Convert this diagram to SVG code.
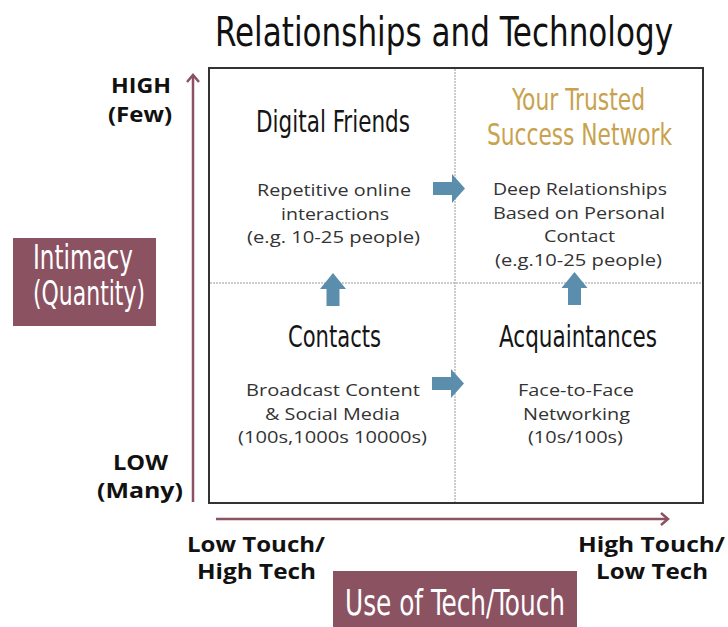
<svg xmlns="http://www.w3.org/2000/svg" width="728" height="627" viewBox="0 0 728 627">
  <style>
    .cond { font-family: "Liberation Sans Narrow", "DejaVu Sans Condensed", "Roboto", sans-serif; font-stretch: condensed; }
    .title { font-size: 40px; fill: #111; }
    .head { font-size: 30px; fill: #151515; }
    .gold { fill: #C8A24E; }
    .body { font-family: "Open Sans", "Noto Sans", sans-serif; font-size: 17px; fill: #333; }
    .lbl { font-family: "Open Sans", "Noto Sans", sans-serif; font-weight: 700; font-size: 20.5px; fill: #111; }
    .tag { fill: #8B5262; }
    .tagtxt { fill: #fff; }
    .axis { stroke: #8B5262; stroke-width: 2.5; fill: none; }
    .blk { fill: #5B8EAD; }
    .div { stroke: #9a9a9a; stroke-width: 1; stroke-dasharray: 2 1; }
  </style>
  <defs>
    <marker id="ah" viewBox="-9 -8 11 16" refX="0" refY="0" markerWidth="11" markerHeight="16" markerUnits="userSpaceOnUse" orient="auto" overflow="visible">
      <path d="M-7,-6 L0,0 L-7,6" fill="none" stroke="#8B5262" stroke-width="2.5" stroke-linejoin="miter"/>
    </marker>
  </defs>
  <rect width="728" height="627" fill="#fff"/>

  <g id="title">
    <text class="cond title" x="215" y="46" textLength="458" lengthAdjust="spacingAndGlyphs">Relationships and Technology</text>
  </g>

  <g id="grid">
    <rect x="209" y="68" width="494" height="435" fill="none" stroke="#333" stroke-width="2"/>
    <line class="div" x1="455" y1="69" x2="455" y2="502"/>
    <line class="div" x1="210" y1="283" x2="702" y2="283"/>
  </g>

  <g id="digital-friends">
    <text class="cond head" x="256" y="132" textLength="154" lengthAdjust="spacingAndGlyphs">Digital Friends</text>
    <text class="body" x="257" y="196" textLength="154" lengthAdjust="spacingAndGlyphs">Repetitive online</text>
    <text class="body" x="281" y="219.5" textLength="108" lengthAdjust="spacingAndGlyphs">interactions</text>
    <text class="body" x="247" y="243" textLength="173" lengthAdjust="spacingAndGlyphs">(e.g. 10-25 people)</text>
  </g>

  <g id="trusted-network">
    <text class="cond head gold" x="512" y="110" textLength="133" lengthAdjust="spacingAndGlyphs">Your Trusted</text>
    <text class="cond head gold" x="487" y="145" textLength="185" lengthAdjust="spacingAndGlyphs">Success Network</text>
    <text class="body" x="493" y="195" textLength="174" lengthAdjust="spacingAndGlyphs">Deep Relationships</text>
    <text class="body" x="493" y="218.5" textLength="172" lengthAdjust="spacingAndGlyphs">Based on Personal</text>
    <text class="body" x="544" y="242" textLength="71" lengthAdjust="spacingAndGlyphs">Contact</text>
    <text class="body" x="495" y="265.5" textLength="167" lengthAdjust="spacingAndGlyphs">(e.g.10-25 people)</text>
  </g>

  <g id="contacts">
    <text class="cond head" x="288" y="347" textLength="93" lengthAdjust="spacingAndGlyphs">Contacts</text>
    <text class="body" x="246" y="396" textLength="174" lengthAdjust="spacingAndGlyphs">Broadcast Content</text>
    <text class="body" x="265" y="420" textLength="135" lengthAdjust="spacingAndGlyphs">&amp; Social Media</text>
    <text class="body" x="238" y="443" textLength="189" lengthAdjust="spacingAndGlyphs">(100s,1000s 10000s)</text>
  </g>

  <g id="acquaintances">
    <text class="cond head" x="499" y="347" textLength="158" lengthAdjust="spacingAndGlyphs">Acquaintances</text>
    <text class="body" x="518" y="396" textLength="116" lengthAdjust="spacingAndGlyphs">Face-to-Face</text>
    <text class="body" x="523" y="420" textLength="107" lengthAdjust="spacingAndGlyphs">Networking</text>
    <text class="body" x="528" y="443" textLength="95" lengthAdjust="spacingAndGlyphs">(10s/100s)</text>
  </g>

  <g id="y-labels">
    <text class="lbl" x="111" y="93" textLength="60" lengthAdjust="spacingAndGlyphs">HIGH</text>
    <text class="lbl" x="108" y="122" textLength="64" lengthAdjust="spacingAndGlyphs">(Few)</text>
    <text class="lbl" x="113" y="470" textLength="55" lengthAdjust="spacingAndGlyphs">LOW</text>
    <text class="lbl" x="97" y="498" textLength="86" lengthAdjust="spacingAndGlyphs">(Many)</text>
  </g>

  <g id="x-labels">
    <text class="lbl" x="187" y="552" textLength="138" lengthAdjust="spacingAndGlyphs">Low Touch/</text>
    <text class="lbl" x="197" y="579" textLength="119" lengthAdjust="spacingAndGlyphs">High Tech</text>
    <text class="lbl" x="578" y="552" textLength="147" lengthAdjust="spacingAndGlyphs">High Touch/</text>
    <text class="lbl" x="596" y="579" textLength="112" lengthAdjust="spacingAndGlyphs">Low Tech</text>
  </g>

  <g id="intimacy-tag">
    <rect class="tag" x="13" y="238" width="143" height="88"/>
    <text class="cond tagtxt" font-size="33" x="33" y="269" textLength="100" lengthAdjust="spacingAndGlyphs">Intimacy</text>
    <text class="cond tagtxt" font-size="33" x="33" y="305" textLength="112" lengthAdjust="spacingAndGlyphs">(Quantity)</text>
  </g>

  <g id="use-tag">
    <rect class="tag" x="333" y="571" width="244" height="56"/>
    <text class="cond tagtxt" font-size="36" x="345" y="615" textLength="220" lengthAdjust="spacingAndGlyphs">Use of Tech/Touch</text>
  </g>

  <g id="connectors">
    <line class="axis" x1="193" y1="502" x2="193" y2="75" marker-end="url(#ah)"/>
    <line class="axis" x1="216" y1="519" x2="668" y2="519" marker-end="url(#ah)"/>
    <path class="blk" d="M433,182 H452 V174 L465,188.5 L452,203 V195 H433 Z"/>
    <path class="blk" d="M432,377 H451 V369 L464,383.5 L451,398 V390 H432 Z"/>
    <path class="blk" d="M326.5,306 V289 H320 L333,273 L346,289 H339.5 V306 Z"/>
    <path class="blk" d="M568,305 V288 H561.5 L574.5,272 L587.5,288 H581 V305 Z"/>
  </g>
</svg>
